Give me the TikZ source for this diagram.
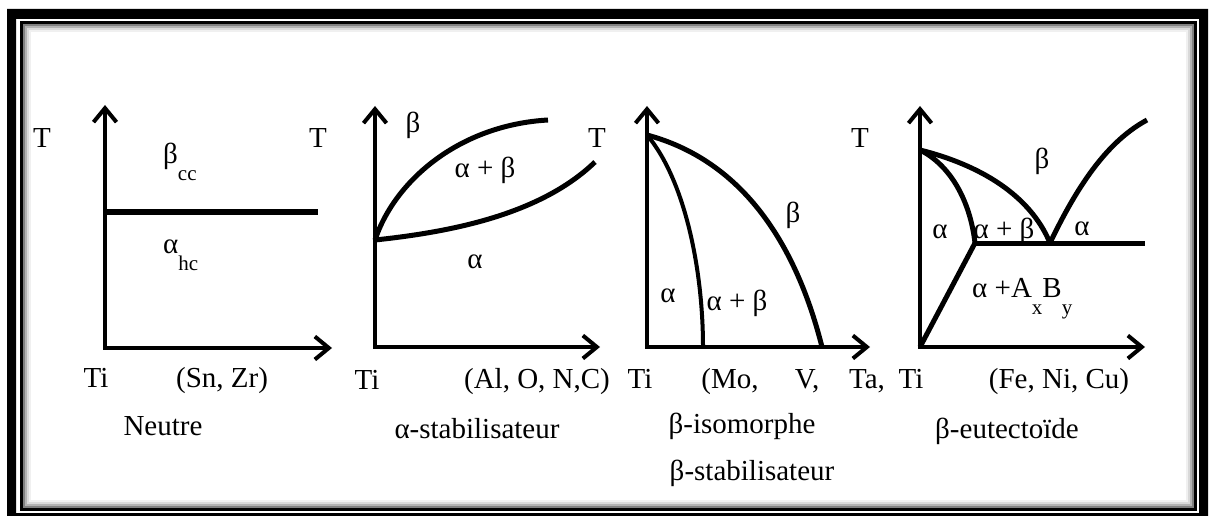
\documentclass[tikz,border=0pt]{standalone}
\usepackage{fontspec}
\setmainfont{Liberation Serif}
\usetikzlibrary{arrows.meta}
\newcommand{\lowsub}[1]{\raisebox{-17pt}{\fontsize{21}{24}\selectfont #1}}
\tikzset{
  axisline/.style={line width=4pt, line join=miter,
    {Straight Barb[length=14pt,width=23pt]}-{Straight Barb[length=14pt,width=23pt]}},
  phaseline/.style={line width=5pt},
  lab/.style={font=\fontsize{29}{34}\selectfont, inner sep=0pt, anchor=base},
}
\begin{document}
\begin{tikzpicture}[x=1pt,y=-1pt]
\useasboundingbox (0,0) rectangle (1214,516);

% frame
\fill[black, even odd rule] (7,9) rectangle (1208,526) (16,19) rectangle (1199,513);
\draw[line width=3pt] (21.5,23) rectangle (1195.5,509.5);
\draw[black!50, line width=2pt] (24,25.5) rectangle (1193,507);
\draw[black!30, line width=2pt] (26,27.5) rectangle (1191,505);
\draw[black!15, line width=2pt] (28,29.5) rectangle (1189,503);
\draw[black!6, line width=2pt] (30,31.5) rectangle (1187,501);

% Neutre
\begin{scope}
\coordinate (o1) at (105,348);
\coordinate (t1) at (105,105);
\coordinate (x1) at (332,348);
\coordinate (l1a) at (105,212);
\coordinate (l1b) at (318,212);
\draw[axisline] (t1) -- (o1) -- (x1);
\draw[line width=6pt] (l1a) -- (l1b);

\node[lab] (T1) at (42,147) {T};
\node[lab] (T2) at (318,147) {T};
\node[lab, anchor=base west] (bcc) at (163,163) {β\lowsub{cc}};
\node[lab, anchor=base west] (ahc) at (163,253) {α\lowsub{hc}};
\node[lab] (ti1) at (96,387) {Ti};
\node[lab] (snzr) at (222,387) {(Sn, Zr)};
\node[lab] (neutre) at (163,435) {Neutre};
\end{scope}

% alpha-stabilisateur
\begin{scope}
\coordinate (o2) at (375,347);
\coordinate (t2) at (375,106);
\coordinate (x2) at (600,347);
\coordinate (m2) at (375,240);
\coordinate (u2) at (548,120);
\coordinate (d2) at (595,162);
\draw[axisline] (t2) -- (o2) -- (x2);
\draw[phaseline] (m2) .. controls (395,180) and (460,125) .. (u2);
\draw[phaseline] (m2) .. controls (450,232) and (540,215) .. (d2);

\node[lab] (b2) at (413,132) {β};
\node[lab] (T3) at (597,147) {T};
\node[lab] (ab2) at (485,177) {α + β};
\node[lab] (a2) at (475,268) {α};
\node[lab] (ti2) at (367,389) {Ti};
\node[lab] (alon) at (537,388) {(Al, O, N,C)};
\node[lab] (astab) at (477,438) {α-stabilisateur};
\end{scope}

% beta-isomorphe
\begin{scope}
\coordinate (o3) at (647,347);
\coordinate (t3) at (647,106);
\coordinate (x3) at (870,347);
\coordinate (m3) at (647,135);
\coordinate (i3) at (703,347);
\coordinate (e3) at (822,347);
\draw[axisline] (t3) -- (o3) -- (x3);
\draw[line width=4pt] (m3) .. controls (685,180) and (703,270) .. (i3);
\draw[phaseline] (m3) .. controls (740,160) and (795,240) .. (e3);

\node[lab] (T4) at (860,147) {T};
\node[lab] (b3) at (793,222) {β};
\node[lab] (a3) at (668,302) {α};
\node[lab] (ab3) at (737,310) {α + β};
\node[lab] (ti3) at (640,388) {Ti};
\node[lab] (mo) at (730,388) {(Mo,};
\node[lab] (v) at (807,388) {V,};
\node[lab] (ta) at (867,388) {Ta,};
\node[lab] (biso) at (742,433) {β-isomorphe};
\node[lab] (bstab) at (752,480) {β-stabilisateur};
\end{scope}

% beta-eutectoide
\begin{scope}
\coordinate (o4) at (920,347);
\coordinate (t4) at (920,106);
\coordinate (x4) at (1145,347);
\coordinate (m4) at (920,150);
\coordinate (p4) at (975,243);
\coordinate (e4) at (1050,243);
\coordinate (r4) at (1145,243);
\coordinate (u4) at (1147,120);
\draw[axisline] (t4) -- (o4) -- (x4);
\draw[phaseline] (m4) .. controls (980,165) and (1030,195) .. (e4);
\draw[phaseline] (m4) .. controls (950,165) and (970,200) .. (p4);
\draw[phaseline] (p4) -- (r4);
\draw[phaseline] (o4) -- (p4);
\draw[phaseline] (e4) .. controls (1080,180) and (1110,140) .. (u4);

\node[lab] (b4) at (1042,168) {β};
\node[lab] (a4l) at (940,238) {α};
\node[lab] (ab4) at (1004,238) {α + β};
\node[lab] (a4r) at (1082,235) {α};
\node[lab, anchor=base west] (axby) at (972,297) {α +A\lowsub{x}B\lowsub{y}};
\node[lab] (ti4) at (911,388) {Ti};
\node[lab] (feni) at (1059,388) {(Fe, Ni, Cu)};
\node[lab] (beut) at (1007,438) {β-eutectoïde};
\end{scope}
\end{tikzpicture}
\end{document}
